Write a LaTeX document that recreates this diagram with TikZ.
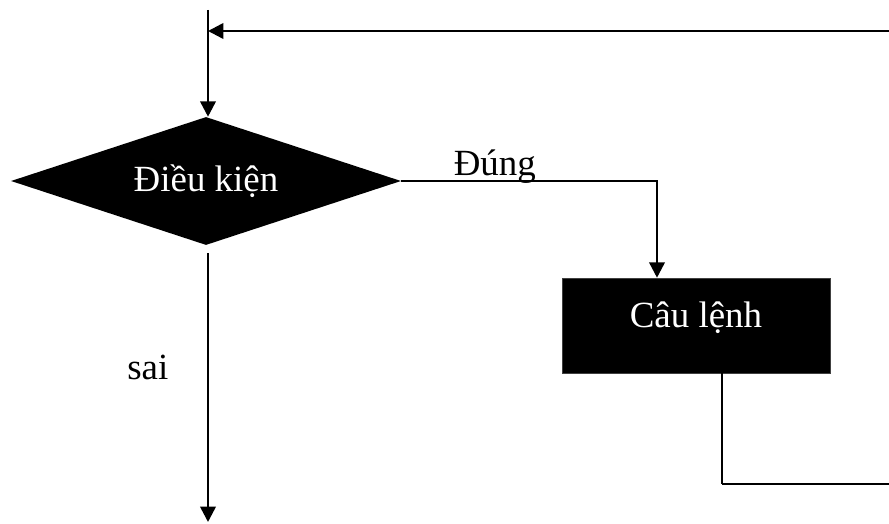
\documentclass[tikz,border=0pt]{standalone}
\usepackage{fontspec}
\setmainfont{Liberation Serif}
\usetikzlibrary{shapes.geometric,arrows.meta}
\begin{document}
\begin{tikzpicture}[x=0.75pt, y=-0.75pt,
every node/.style={font=\fontsize{27.7}{33}\selectfont},
flow/.style={line width=1.9pt, -{Triangle[length=11.5pt,width=11.5pt]}},
wire/.style={line width=1.9pt},
cond/.style={diamond, aspect=3.05, fill=black, text=white, inner sep=0pt, minimum width=292.5pt, minimum height=96pt},
block/.style={rectangle, fill=black, draw=black!75, text=white, inner sep=0pt, minimum width=201pt, text height=36.75pt, text depth=34.5pt}]
\useasboundingbox (0,0) rectangle (889,524);
\node[cond] (test) at (206,181) {Điều kiện};
\node[block] (stmt) at (696,325.5) {Câu lệnh};
\coordinate (start) at (208,10);
\coordinate (back) at (889,31);
\coordinate (turn) at (722,484);
\coordinate (loop) at (889,484);
\coordinate (exit) at (208,522);
\draw[flow] (start) -- (start |- test.north);
\draw[flow] (back) -- (start |- back);
\draw[flow] (test.east) -| ([xshift=-29.25pt]stmt.north) node[pos=0.183, anchor=base, yshift=3.75pt] {Đúng};
\draw[line width=0.9pt] (stmt.south -| turn) -- (turn);
\draw[wire] (turn) -- (loop);
\draw[flow] ([yshift=-6pt]test.south -| exit) -- (exit) node[pos=0.47, anchor=base east, xshift=-25.5pt] {sai};
\end{tikzpicture}
\end{document}
